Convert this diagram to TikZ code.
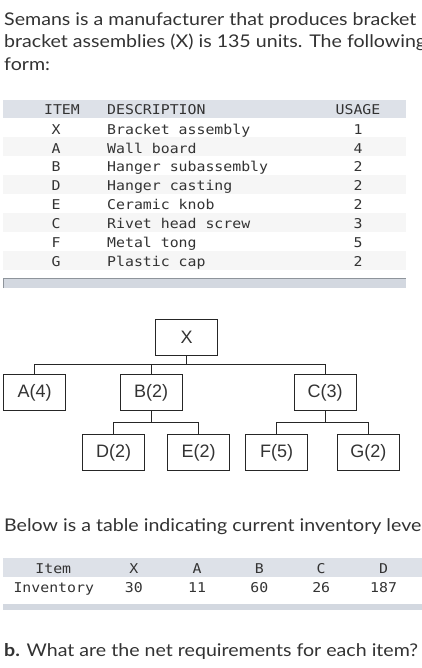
\documentclass[tikz,border=0pt]{standalone}
\usepackage{fontspec}
\setmainfont[FakeStretch=1.12]{Lato}
\newfontfamily\monof[FakeStretch=1.1]{DejaVu Sans Mono}
\newfontfamily\arialf{Liberation Sans}
\definecolor{txt}{HTML}{333333}
\definecolor{hdr}{HTML}{DDE1E8}
\definecolor{barc}{HTML}{D3D8E0}
\definecolor{barline}{HTML}{8E949B}
\definecolor{alt}{HTML}{F6F6F6}
\tikzset{
  para/.style={anchor=base west, inner sep=0, font=\fontsize{17.5}{21}\selectfont, text=txt},
  cell/.style={anchor=base, inner sep=0, font=\monof\fontsize{13.5}{16}\selectfont, text=txt},
  celll/.style={cell, anchor=base west},
  bomb/.style={draw=black!85, line width=0.9pt, minimum width=62, minimum height=36, inner sep=0, font=\arialf\fontsize{18}{20}\selectfont, text=txt},
  conn/.style={draw=black!85, line width=0.9pt}
}
\begin{document}
\begin{tikzpicture}[x=1pt,y=-1pt]
\useasboundingbox (0,0) rectangle (422,668);
\clip (0,0) rectangle (422,668);
\fill[white] (0,0) rectangle (422,668);
% paragraph 1
\node[para] (p1) at (4,26) {Semans is a manufacturer that produces bracket};
\node[para] (p2) at (4,48) {bracket assemblies (X) is 135 units. The following};
\node[para] (p3) at (4,70.5) {form:};
% table 1
\fill[hdr] (3,100) rectangle (406,118.3);
\foreach \i in {1,3,5,7} {
  \fill[alt] (3,{118.3+19*\i}) rectangle (406,{118.3+19*(\i+1)});
}
\fill[barc] (3,278.5) rectangle (406,288);
\draw[barline, line width=0.8pt] (3,288) -- (3,278.5) -- (406,278.5);
\node[cell] (hItem) at (62,114.8) {ITEM};
\node[celll] (hDesc) at (107,114.8) {DESCRIPTION};
\node[cell] (hUse) at (358,114.8) {USAGE};
\foreach \it/\de/\us [count=\i from 0] in {X/Bracket assembly/1, A/Wall board/4, B/Hanger subassembly/2, D/Hanger casting/2, E/Ceramic knob/2, C/Rivet head screw/3, F/Metal tong/5, G/Plastic cap/2} {
  \node[cell] (it\i) at (56,{134.1+18.95*\i}) {\it};
  \node[celll] (de\i) at (107,{134.1+18.95*\i}) {\de};
  \node[cell] (us\i) at (358,{134.1+18.95*\i}) {\us};
}
% tree
\node[bomb] (X) at (186.7,337.3) {X};
\node[bomb] (A) at (34.7,392.7) {A(4)};
\node[bomb] (B) at (151,392.7) {B(2)};
\node[bomb] (C) at (325.2,392.7) {C(3)};
\node[bomb] (D) at (113.7,452.7) {D(2)};
\node[bomb] (E) at (198.5,452.7) {E(2)};
\node[bomb] (F) at (276.5,452.7) {F(5)};
\node[bomb] (G) at (368.3,452.7) {G(2)};
\coordinate (bus1) at (185.7,364.3);
\coordinate (bus2) at (151,422.7);
\draw[conn] (X.south) -- (X.south |- bus1);
\draw[conn] (A.north) -- (A.north |- bus1) -- (C.north |- bus1) -- (C.north);
\draw[conn] (B.north) -- (B.north |- bus1);
\draw[conn] (B.south) -- (B.south |- bus2);
\draw[conn] (D.north) -- (D.north |- bus2) -- (E.north |- bus2) -- (E.north);
\draw[conn] (C.south) -- (C.south |- bus2);
\draw[conn] (F.north) -- (F.north |- bus2) -- (G.north |- bus2) -- (G.north);
% paragraph 2
\node[para] (p4) at (4,531) {Below is a table indicating current inventory levels};
% table 2
\fill[hdr] (3,558.3) rectangle (422,576.7);
\fill[barc] (3,604.3) rectangle (422,610);
\node[cell] (t2h0) at (53.3,573.1) {Item};
\node[celll] (t2r0) at (13.3,592.1) {Inventory};
\foreach \h/\v/\x [count=\i] in {X/30/133.8, A/11/197, B/60/259.3, C/26/321.2, D/187/383.6} {
  \node[cell] (t2h\i) at (\x,573.1) {\h};
  \node[cell] (t2r\i) at (\x,592.1) {\v};
}
% question
\node[para] (p5) at (4,656.5) {\textbf{b.} What are the net requirements for each item?};
\end{tikzpicture}
\end{document}
